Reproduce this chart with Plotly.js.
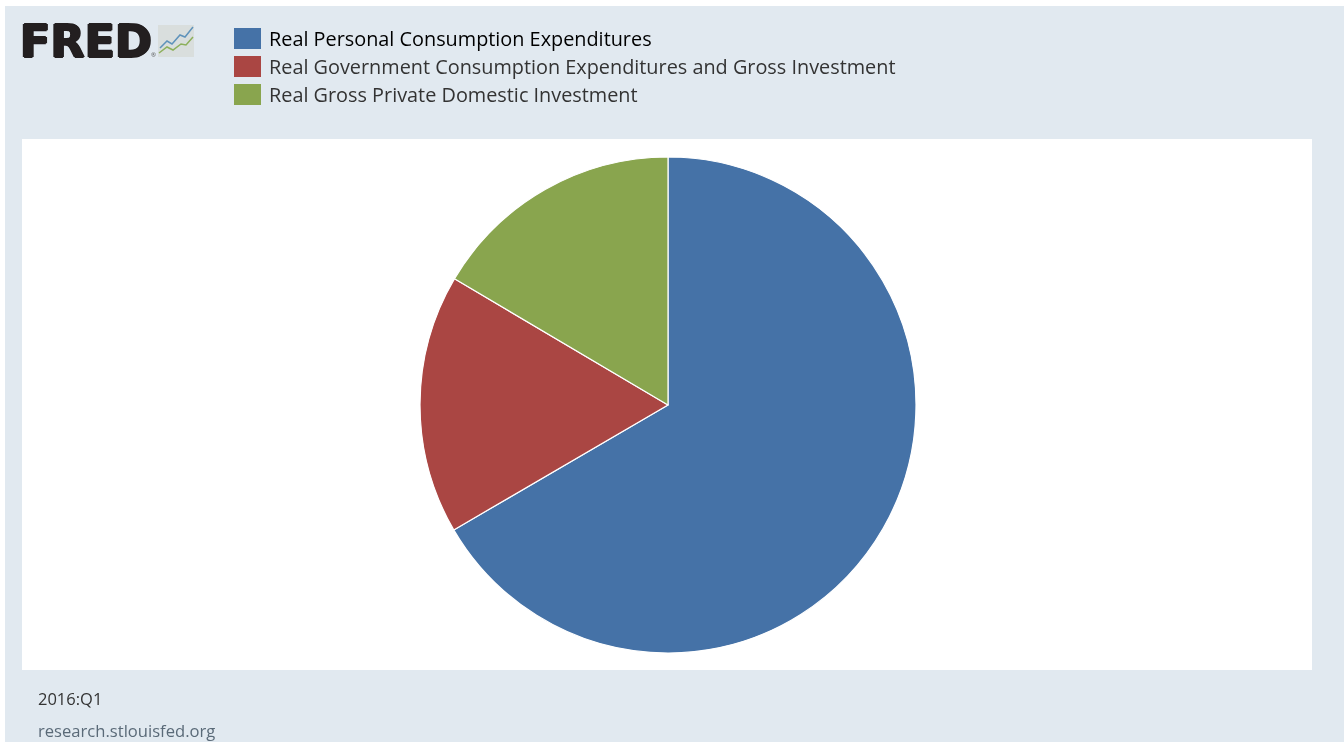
<!DOCTYPE html>
<html>
<head>
<meta charset="utf-8">
<script src="https://cdn.plot.ly/plotly-3.0.1.min.js"></script>
<style>html,body{margin:0;padding:0;background:#fff;overflow:hidden}#chart{width:1344px;height:742px;filter:blur(0.55px)}</style>
</head>
<body>
<div id="chart"></div>
<script>
const categories = ["Real Personal Consumption Expenditures","Real Government Consumption Expenditures and Gross Investment","Real Gross Private Domestic Investment"];
const shares = [66.6, 16.9, 16.5];
const colors = ["#4572a7","#aa4643","#89a54e"];
const legendTextColors = ["#000000","#333333","#333333"];
const period = "2016:Q1";
const source = "research.stlouisfed.org";
const W = 1344, H = 742;
const px = v => v / W, py = v => 1 - v / H;
const rect = (x0, y0, x1, y1, fill) => ({type:"rect", xref:"paper", yref:"paper", x0:px(x0), x1:px(x1), y0:py(y0), y1:py(y1), fillcolor:fill, line:{width:0}, layer:"below"});
const line = (pts, color) => ({type:"path", xref:"paper", yref:"paper", path:"M" + pts.map(p => px(p[0]) + "," + py(p[1])).join("L"), line:{color, width:1.5}});
const label = (text, x, y, size, color, family) => ({text, x:px(x), y:py(y), xref:"paper", yref:"paper", xanchor:"left", yanchor:"middle", showarrow:false, font:{size, color, family}});
const shapes = [
  rect(5, 6, W, H, "#e1e9f0"),
  rect(22, 139, 1312, 670, "#ffffff"),
  rect(158, 25, 194, 57, "#d9dedd"),
  line([[160,48],[167,41],[172,44],[180,35],[185,37],[193,27]], "#5f93bb"),
  line([[159,53],[167,47],[173,50],[181,44],[186,45],[193,37]], "#8db05c")
];
const annotations = [
  label("FRED", 18, 42, 44.5, "#231f20", "DejaVu Sans"),
  label("®", 149, 55, 6, "#555555", "Open Sans"),
  label(period, 36, 698.5, 16.5, "#333333", "Open Sans"),
  label(source, 36, 730, 16.6, "#5a6a78", "Open Sans")
];
annotations[0].font.weight = 700;
annotations[0].font.shadow = "1.2px 0 0 #231f20, -1.2px 0 0 #231f20, 0 0.6px 0 #231f20, 0 -0.6px 0 #231f20";
categories.forEach((c, i) => {
  const y = 39 + i * 28;
  shapes.push(rect(234, y - 11, 261, y + 10, colors[i]));
  annotations.push(label(c, 267, y, 19.85, legendTextColors[i], "Open Sans"));
});
Plotly.newPlot("chart", [{
  type:"pie", labels:categories, values:shares, sort:false, direction:"clockwise", rotation:0,
  marker:{colors, line:{color:"#ffffff", width:1.2}}, textinfo:"none", showlegend:false,
  domain:{x:[420/W, 916/W], y:[1-653.5/H, 1-156.5/H]}
}], {
  width:W, height:H, margin:{l:0,r:0,t:0,b:0}, paper_bgcolor:"#ffffff", showlegend:false, shapes, annotations
}, {displayModeBar:false, responsive:false});
</script>
</body>
</html>
